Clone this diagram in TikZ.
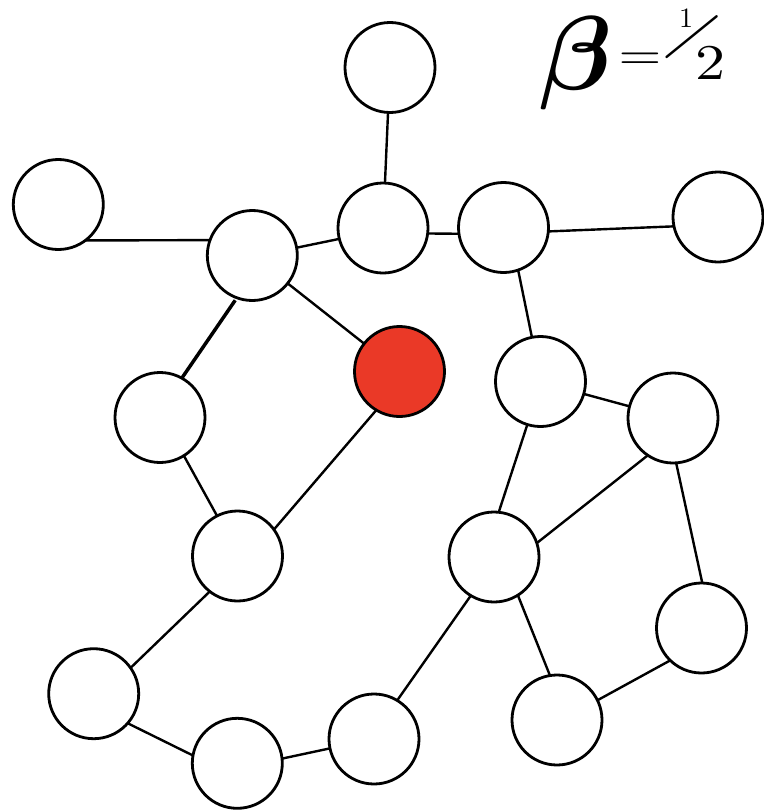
\documentclass[tikz,border=0pt]{standalone}
\usepackage{amsmath,amssymb,bm,graphicx}
\begin{document}
\begin{tikzpicture}[x=1pt,y=-1pt,
  vtx/.style={circle,draw=black,line width=2.8pt,minimum size=90pt,inner sep=0pt,outer sep=0pt,fill=white},
  hot/.style={vtx,fill=redfill},
  edge/.style={draw=black,line width=2.4pt},
  thickedge/.style={draw=black,line width=3.5pt},
  lbl/.style={inner sep=0pt,outer sep=0pt,anchor=center}]
\definecolor{redfill}{RGB}{234,57,39}
\useasboundingbox (0,0) rectangle (763,811);
\fill[white] (0,0) rectangle (763,811);
\coordinate (c1) at (390,67.5);
\coordinate (c2) at (58.3,204.5);
\coordinate (c3) at (252.3,255.5);
\coordinate (c4) at (383,228);
\coordinate (c5) at (503.5,227.5);
\coordinate (c6) at (718,217);
\coordinate (c7) at (399.5,371.5);
\coordinate (c8) at (540.5,381.5);
\coordinate (c9) at (160,417.5);
\coordinate (c10) at (673,418);
\coordinate (c11) at (237.5,556);
\coordinate (c12) at (494,557);
\coordinate (c13) at (701.5,628);
\coordinate (c14) at (93.7,693.7);
\coordinate (c15) at (557,720);
\coordinate (c16) at (374,739);
\coordinate (c17) at (237.3,763.3);
\node[vtx] (n1) at (c1) {};
\node[vtx] (n2) at (c2) {};
\node[vtx] (n3) at (c3) {};
\node[vtx] (n4) at (c4) {};
\node[vtx] (n5) at (c5) {};
\node[vtx] (n6) at (c6) {};
\node[hot] (n7) at (c7) {};
\node[vtx] (n8) at (c8) {};
\node[vtx] (n9) at (c9) {};
\node[vtx] (n10) at (c10) {};
\node[vtx] (n11) at (c11) {};
\node[vtx] (n12) at (c12) {};
\node[vtx] (n13) at (c13) {};
\node[vtx] (n14) at (c14) {};
\node[vtx] (n15) at (c15) {};
\node[vtx] (n16) at (c16) {};
\node[vtx] (n17) at (c17) {};
\draw[edge] (n1) -- (n4);
\draw[edge] (n2.-53) -- (n3.160);
\draw[edge] (n3.10) -- (n4.194);
\draw[edge] (n4.-7) -- (n5.188);
\draw[edge] (n5.-5) -- (n6.192);
\draw[edge] (n3) -- (n7);
\draw[thickedge,shorten <=3pt] (n3.-110) -- (n9.61);
\draw[edge] (n5.-71) -- (n8.101.5);
\draw[edge] (n8.-16) -- (n10.165);
\draw[edge] (n8.-107) -- (n12.84);
\draw[edge] (n10.-124.7) -- (n12.18.4);
\draw[edge] (n10.-86) -- (n13.89.4);
\draw[edge] (n9.-58) -- (n11.117.6);
\draw[edge] (n7.-121) -- (n11.36);
\draw[edge] (n11.-128) -- (n14.35);
\draw[edge] (n14.-41.7) -- (n17.170);
\draw[edge] (n17.6.5) -- (n16.192);
\draw[edge] (n12.-121) -- (n16.59);
\draw[edge] (n12.-58.6) -- (n15.99.7);
\draw[edge] (n15.26) -- (n13.226);
% beta = 1/2
\node[lbl] (beta) at (576,63) {\scalebox{10.5}{$\boldsymbol{\beta}$}};
\node[lbl] (eq) at (640,61) {\scalebox{5.5}[4.5]{$=$}};
\node[lbl] (one) at (686,18) {\scalebox{2.8}{1}};
\node[lbl] (slash) at (692,37) {\rotatebox{-31}{\scalebox{6.3}{/}}};
\node[lbl] (two) at (710,63) {\scalebox{6}[5]{2}};
\end{tikzpicture}
\end{document}
